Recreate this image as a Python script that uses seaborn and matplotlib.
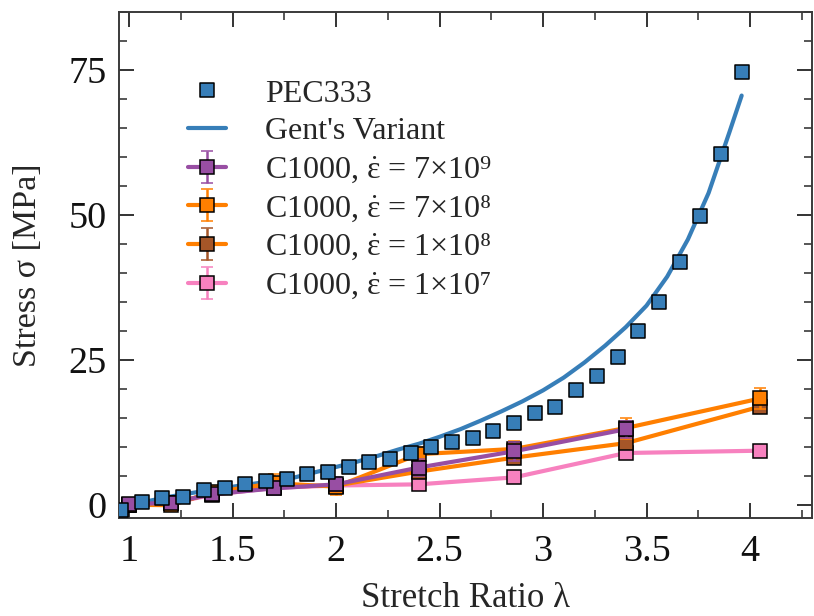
import matplotlib
matplotlib.use("Agg")
import matplotlib.pyplot as plt
import seaborn as sns
import pandas as pd
from matplotlib.ticker import MultipleLocator

# PEC333 measurements
pec_stretch = [0.96, 1.06, 1.16, 1.26, 1.36, 1.46, 1.56, 1.66, 1.76, 1.86, 1.96,
               2.06, 2.16, 2.26, 2.36, 2.46, 2.56, 2.66, 2.76, 2.86, 2.96,
               3.06, 3.16, 3.26, 3.36, 3.46, 3.56, 3.66, 3.76, 3.86, 3.96]
pec_stress = [-0.9, 0.6, 1.2, 1.4, 2.6, 2.9, 3.6, 4.2, 4.6, 5.4, 5.7,
              6.6, 7.4, 8.0, 9.0, 10.0, 10.9, 11.6, 12.8, 14.2, 15.9,
              17.0, 19.9, 22.2, 25.6, 30.0, 35.0, 41.9, 49.9, 60.6, 74.6]

# Gent's variant model curve
gent_stretch = [0.96, 1.06, 1.2, 1.4, 1.6, 1.8, 2.0, 2.1, 2.2, 2.3, 2.4, 2.5,
                2.6, 2.7, 2.8, 2.9, 3.0, 3.1, 3.2, 3.3, 3.4, 3.5, 3.6, 3.7,
                3.8, 3.9, 3.96]
gent_stress = [-0.7, 0.5, 1.5, 2.7, 3.7, 4.8, 6.6, 7.5, 8.5, 9.6, 10.6, 11.8,
               13.1, 14.6, 16.2, 17.9, 19.8, 22.0, 24.6, 27.5, 30.7, 34.4, 39.4, 45.8,
               53.8, 64.2, 70.6]

# C1000 simulations at four strain rates
c_stretch = [1.0, 1.2, 1.4, 1.7, 2.0, 2.4, 2.86, 3.4, 4.05]
c7e9_stress = [0.2, 0.4, 1.9, 2.9, 3.6, 6.5, 9.3, 13.1]
c7e9_err = [0.5, 1.0, 1.0, 1.2, 1.2, 1.5, 1.6, 1.5]
c7e8_stress = [0.1, 0.0, 2.2, 3.8, 3.2, 8.8, 9.7, 13.3, 18.4]
c7e8_err = [0.5, 1.0, 1.2, 1.5, 1.5, 1.2, 1.4, 1.8, 1.8]
c1e8_stress = [0.1, 0.3, 2.0, 3.2, 3.4, 5.8, 8.2, 10.7, 17.0]
c1e8_err = [0.4, 0.8, 1.0, 1.0, 1.0, 1.0, 1.0, 1.0, 1.0]
c1e7_stress = [0.0, 0.3, 1.8, 3.0, 3.4, 3.6, 4.8, 9.0, 9.4]
c1e7_err = [0.4, 0.6, 0.6, 0.6, 0.6, 0.6, 0.6, 0.6, 0.6]

x_ticks = [1, 1.5, 2, 2.5, 3, 3.5, 4]
x_tick_labels = ["1", "1.5", "2", "2.5", "3", "3.5", "4"]
y_ticks = [0, 25, 50, 75]
y_tick_labels = ["0", "25", "50", "75"]

sns.set_theme(style="ticks")
plt.rcParams["font.family"] = ["Liberation Serif", "DejaVu Serif"]
plt.rcParams["mathtext.fontset"] = "stix"

BLUE = "#377eb8"
PURPLE = "#984ea3"
ORANGE = "#ff7f00"
BROWN = "#a65628"
PINK = "#f781bf"
SPINE = "#3a3a3a"

fig = plt.figure(figsize=(8.14, 6.16), dpi=100)
ax = fig.add_axes([119 / 814, 98 / 616, 693 / 814, 506 / 616])

pec_df = pd.DataFrame({"stretch": pec_stretch, "stress": pec_stress})
gent_df = pd.DataFrame({"stretch": gent_stretch, "stress": gent_stress})

line_gent = sns.lineplot(data=gent_df, x="stretch", y="stress", ax=ax, color=BLUE,
                         lw=3.0, sort=False, zorder=3).lines[-1]
line_gent.set_solid_joinstyle("round")

mk = dict(marker="s", markersize=9.5, markeredgecolor="black", markeredgewidth=1.1)
eb = dict(lw=3.0, elinewidth=1.8, capsize=4, capthick=1.8)

h1e7 = ax.errorbar(c_stretch, c1e7_stress, yerr=c1e7_err, color=PINK, ecolor=PINK,
                   markerfacecolor=PINK, zorder=4, **mk, **eb)
h1e8 = ax.errorbar(c_stretch, c1e8_stress, yerr=c1e8_err, color=ORANGE, ecolor=BROWN,
                   markerfacecolor=BROWN, zorder=5, **mk, **eb)
h7e8 = ax.errorbar(c_stretch, c7e8_stress, yerr=c7e8_err, color=ORANGE, ecolor=ORANGE,
                   markerfacecolor=ORANGE, zorder=6, **mk, **eb)
h7e9 = ax.errorbar(c_stretch[:len(c7e9_stress)], c7e9_stress, yerr=c7e9_err, color=PURPLE,
                   ecolor=PURPLE, markerfacecolor=PURPLE, zorder=7, **mk, **eb)

sns.scatterplot(data=pec_df, x="stretch", y="stress", ax=ax, marker="s", s=95,
                color=BLUE, edgecolor="black", linewidth=1.1, zorder=8)
pec_handle = ax.collections[-1]

ax.set_xlim(0.95, 4.3)
ax.set_ylim(-2.2, 85)
ax.set_xticks(x_ticks)
ax.set_xticklabels(x_tick_labels)
ax.set_yticks(y_ticks)
ax.set_yticklabels(y_tick_labels)
ax.xaxis.set_minor_locator(MultipleLocator(0.25))
ax.yaxis.set_minor_locator(MultipleLocator(5))

ax.tick_params(which="both", direction="in", top=True, right=True, color=SPINE, width=1.2)
ax.tick_params(which="major", length=11, labelsize=27.5, colors="#111111")
ax.tick_params(axis="x", which="major", pad=12)
ax.tick_params(axis="y", which="major", pad=9)
ax.tick_params(which="minor", length=5.5)
for s in ax.spines.values():
    s.set_color(SPINE)
    s.set_linewidth(1.4)

ax.set_xlabel("Stretch Ratio λ", fontsize=25, labelpad=9)
ax.set_ylabel("Stress σ [MPa]", fontsize=24.5, labelpad=18)


def rate_label(mantissa, exponent):
    return "C1000, $\\dot{\\mathregular{\u03b5}}$ = " + mantissa + "×10" + exponent


handles = [pec_handle, line_gent, h7e9, h7e8, h1e8, h1e7]
labels = ["PEC333", "Gent's Variant",
          rate_label("7", "\u2079"),
          rate_label("7", "\u2078"),
          rate_label("1", "\u2078"),
          rate_label("1", "\u2077")]
ax.legend(handles, labels, loc="upper left", bbox_to_anchor=(0.0996, 0.867),
          frameon=False, fontsize=23, handlelength=1.2, handletextpad=1.22,
          labelspacing=0.26, borderpad=0, borderaxespad=0, scatteryoffsets=[0.5])

fig.savefig("out.png", dpi=100)
